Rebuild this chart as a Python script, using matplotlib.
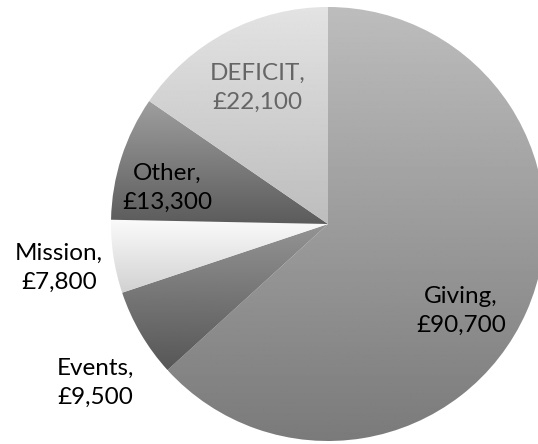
import matplotlib.pyplot as plt
import numpy as np

plt.rcParams['font.family'] = ['Lato', 'DejaVu Sans']

# budget split (GBP)
labels = ['Giving', 'Events', 'Mission', 'Other', 'DEFICIT']
values = [90700, 9500, 7800, 13300, 22100]
# vertical gradient per slice: (top grey, bottom grey)
shades = [(0.74, 0.48), (0.58, 0.34), (0.98, 0.82), (0.62, 0.36), (0.89, 0.74)]
text_colors = ['black', 'black', 'black', 'black', '#666666']
# label centres in pie-radius units
label_xy = [(0.613, -0.401), (-1.074, -0.733), (-1.240, -0.203),
            (-0.742, 0.166), (-0.323, 0.627)]

W, H, dpi = 538, 444, 100
cx, cy, R = 328, 224, 217  # pie centre / radius in pixels

fig = plt.figure(figsize=(W / dpi, H / dpi), dpi=dpi)
ax = fig.add_axes([0, 0, 1, 1])

wedges, _ = ax.pie(values, startangle=90, counterclock=False, radius=1,
                   wedgeprops=dict(linewidth=0))
ax.set_xlim(-cx / R, (W - cx) / R)
ax.set_ylim(-(H - cy) / R, cy / R)
ax.set_aspect('equal')
ax.axis('off')

for w, (top, bot) in zip(wedges, shades):
    ext = w.get_path().get_extents(w.get_transform() - ax.transData)
    grad = np.linspace(top, bot, 256).reshape(-1, 1)
    im = ax.imshow(grad, cmap='gray', vmin=0, vmax=1, aspect='auto',
                   extent=(ext.x0, ext.x1, ext.y0, ext.y1), origin='upper',
                   interpolation='bilinear', zorder=2)
    im.set_clip_path(w)
    w.set_facecolor('none')

for lab, v, (x, y), c in zip(labels, values, label_xy, text_colors):
    ax.text(x, y, f'{lab},\n£{v:,}', ha='center', va='center',
            multialignment='center', fontsize=17.5, color=c, linespacing=1.45,
            zorder=5)

fig.savefig('out.png', dpi=dpi)
